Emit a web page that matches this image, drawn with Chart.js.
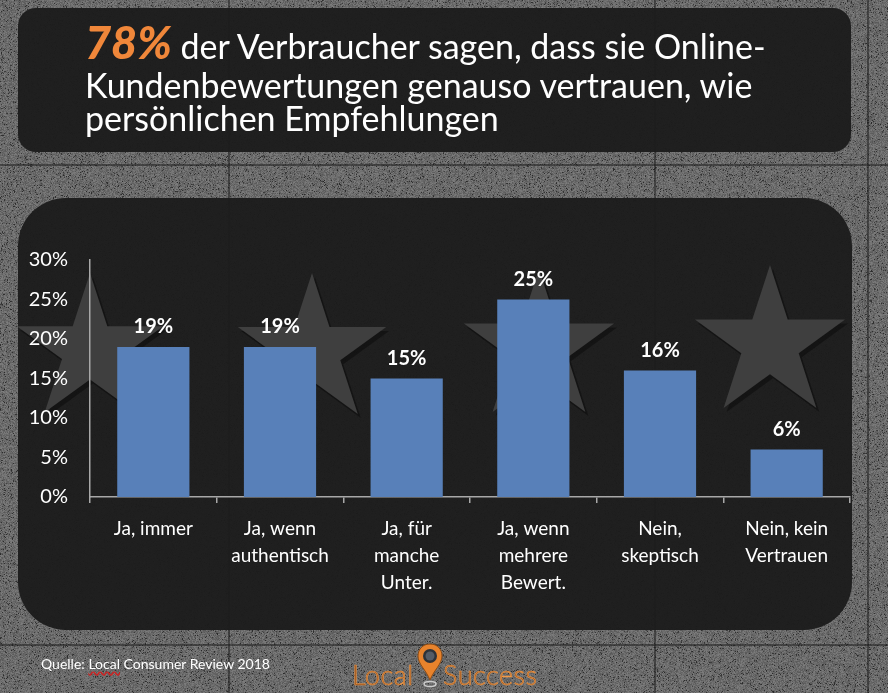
<!DOCTYPE html>
<html>
<head>
<meta charset="utf-8">
<script src="https://cdn.jsdelivr.net/npm/chart.js@4"></script>
<style>
  html, body { margin: 0; padding: 0; }
  body {
    width: 888px; height: 693px; position: relative; overflow: hidden;
    font-family: Lato, "Open Sans", sans-serif;
    background-color: #6c6c6c;
  }
  #texture { position: absolute; left: 0; top: 0; }
  .panel { position: absolute; background: rgba(28,28,28,.96); }
  #top { left: 18px; top: 8px; width: 833px; height: 144px; border-radius: 18px; }
  #bottom { left: 18px; top: 198px; width: 834px; height: 432px; border-radius: 48px; }
  .tline {
    position: absolute; left: 85px; height: 34px; white-space: nowrap;
    color: #fff; font-size: 34px; line-height: 34px;
  }
  .tline .big { color: #f0873a; font-size: 45px; line-height: 34px; font-weight: 900; font-style: italic; }
  #stars { position: absolute; left: 0; top: 0; }
  #chartBox { position: absolute; left: 0; top: 226px; width: 888px; height: 380px; }
  #source {
    position: absolute; left: 41px; top: 655px; color: #fff; font-size: 14px;
  }
  #source u { text-decoration: underline wavy #d02020; text-underline-offset: 2px; }
  #logo {
    position: absolute; left: 352px; top: 641px; width: 190px; height: 52px;
    color: #9a5018; -webkit-text-stroke: 0.6px #f29a48;
    font-size: 27px; font-weight: 300; letter-spacing: 0.5px;
  }
  #logo span { position: absolute; top: 17px; }
</style>
</head>
<body>
<canvas id="texture" width="888" height="693"></canvas>
<div class="panel" id="top"></div>
<div class="panel" id="bottom"></div>
<div class="tline" style="top:25px"><span class="big">78%</span> der Verbraucher sagen, dass sie Online-</div>
<div class="tline" style="top:68px">Kundenbewertungen genauso vertrauen, wie</div>
<div class="tline" style="top:101px">persönlichen Empfehlungen</div>

<svg id="stars" width="888" height="693"></svg>

<div id="chartBox"><canvas id="chart"></canvas></div>

<div id="source">Quelle: <u>Local</u> Consumer Review 2018</div>
<div id="logo">
  <span style="left:0">Local</span>
  <svg style="position:absolute;left:65px;top:1px" width="26" height="50" viewBox="0 0 26 50">
    <path d="M13 2 C5 2 1 8 1 14 C1 22 9 28 13 38 C17 28 25 22 25 14 C25 8 21 2 13 2 Z" fill="#e8832c" stroke="#8a4a14" stroke-width="1"/>
    <circle cx="13" cy="14" r="7" fill="#2e3238"/>
    <circle cx="13" cy="14" r="4.5" fill="#555c66"/>
    <ellipse cx="13" cy="42" rx="6" ry="2.5" fill="none" stroke="#ccc" stroke-width="1.5"/>
  </svg>
  <span style="left:91px">Success</span>
</div>

<script>
// chart values
const categories = [
  ['Ja, immer'],
  ['Ja, wenn', 'authentisch'],
  ['Ja, für', 'manche', 'Unter.'],
  ['Ja, wenn', 'mehrere', 'Bewert.'],
  ['Nein,', 'skeptisch'],
  ['Nein, kein', 'Vertrauen']
];
const shares = [19, 19, 15, 25, 16, 6];
const yTicks = [0, 5, 10, 15, 20, 25, 30];

// decorative background stars (not data)
const starSpots = [
  { cx: 90, cy: 350, r: 77 },
  { cx: 312, cy: 351, r: 78 },
  { cx: 539, cy: 348, r: 79 },
  { cx: 770, cy: 344, r: 79 }
];

// concrete-like texture, deterministic hash instead of random
const tex = document.getElementById('texture').getContext('2d');
const hash = (x, y) => {
  let h = (x * 374761393 + y * 668265263) | 0;
  h = (h ^ (h >>> 13)) * 1274126177 | 0;
  return ((h ^ (h >>> 16)) >>> 0) / 4294967295;
};
const img = tex.createImageData(888, 693);
for (let y = 0; y < 693; y++) {
  for (let x = 0; x < 888; x++) {
    const n = hash(x, y);
    let v = 108 + (n - 0.5) * 40;
    if (n > 0.93) v = 40 + hash(y, x) * 30;
    const i = (y * 888 + x) * 4;
    img.data[i] = img.data[i + 1] = img.data[i + 2] = v;
    img.data[i + 3] = 255;
  }
}
tex.putImageData(img, 0, 0);
tex.strokeStyle = 'rgba(30,30,30,.7)';
tex.lineWidth = 1.5;
[[229, 0, 229, 693], [655, 0, 655, 693], [868, 0, 868, 693], [0, 165, 888, 165], [0, 645, 888, 645]].forEach(l => {
  tex.beginPath(); tex.moveTo(l[0], l[1]); tex.lineTo(l[2], l[3]); tex.stroke();
});

const starPoints = (cx, cy, r) => {
  const pts = [];
  for (let i = 0; i < 10; i++) {
    const rad = i % 2 === 0 ? r : r * 0.382;
    const a = -Math.PI / 2 + i * Math.PI / 5;
    pts.push((cx + rad * Math.cos(a)).toFixed(1) + ',' + (cy + rad * Math.sin(a)).toFixed(1));
  }
  return pts.join(' ');
};

const svg = document.getElementById('stars');
svg.innerHTML = starSpots.map(s =>
  `<polygon points="${starPoints(s.cx + 3, s.cy + 4, s.r)}" fill="rgba(0,0,0,.35)"/>` +
  `<polygon points="${starPoints(s.cx, s.cy, s.r)}" fill="#3f3f3f"/>`
).join('');

// value labels above bars
const valueLabels = {
  id: 'valueLabels',
  afterDatasetsDraw(chart) {
    const { ctx } = chart;
    const meta = chart.getDatasetMeta(0);
    ctx.save();
    ctx.fillStyle = '#ffffff';
    ctx.font = 'bold 20px Lato';
    ctx.textAlign = 'center';
    ctx.textBaseline = 'bottom';
    meta.data.forEach((bar, i) => {
      ctx.fillText(shares[i] + '%', bar.x, bar.y - 10);
    });
    ctx.restore();
  }
};

new Chart(document.getElementById('chart'), {
  type: 'bar',
  data: {
    labels: categories,
    datasets: [{
      data: shares,
      backgroundColor: '#5880b9',
      barPercentage: 0.57,
      categoryPercentage: 1
    }]
  },
  options: {
    responsive: true,
    maintainAspectRatio: false,
    animation: false,
    layout: { padding: { top: 0, right: 38, left: 0, bottom: 0 } },
    plugins: { legend: { display: false }, tooltip: { enabled: false } },
    scales: {
      x: {
        grid: { offset: true, drawOnChartArea: false, drawTicks: true, tickLength: 6, color: '#a8a8a8', lineWidth: 1.5 },
        border: { display: true, color: '#a8a8a8', width: 1.5 },
        ticks: { color: '#ffffff', font: { family: 'Lato', size: 19, lineHeight: 1.42 }, padding: 12, maxRotation: 0, autoSkip: false },
        afterFit(scale) { scale.height = 109; }
      },
      y: {
        min: 0,
        max: 30,
        afterBuildTicks(scale) { scale.ticks = yTicks.map(v => ({ value: v })); },
        grid: { display: false, drawTicks: false },
        border: { display: true, color: '#a8a8a8', width: 1.5 },
        ticks: { color: '#ffffff', font: { family: 'Lato', size: 20 }, padding: 22, callback: v => v + '%' },
        afterFit(scale) { scale.width = 90; }
      }
    }
  },
  plugins: [valueLabels]
});
</script>
</body>
</html>
